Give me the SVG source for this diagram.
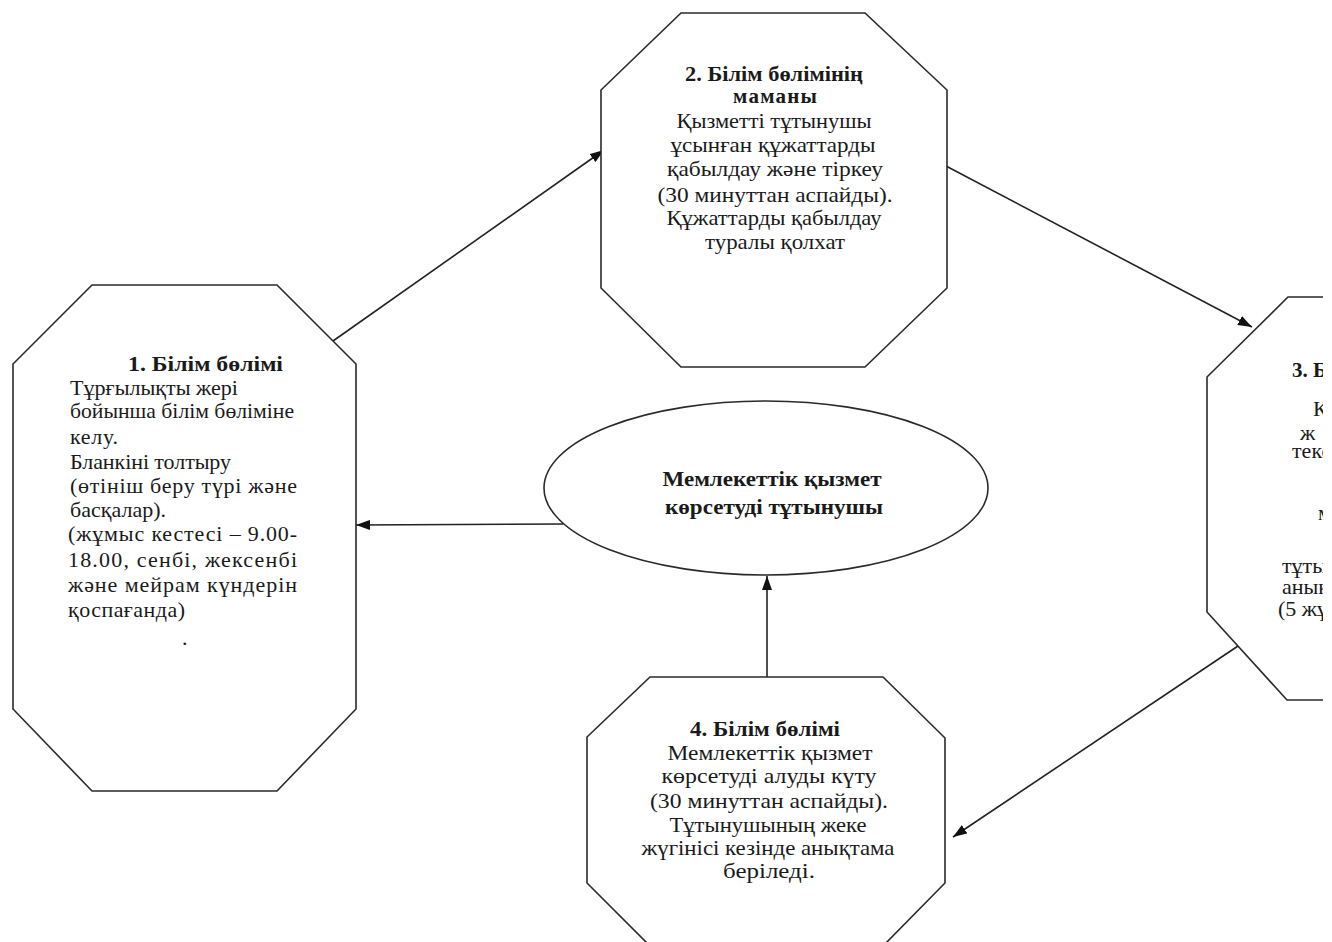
<svg xmlns="http://www.w3.org/2000/svg" width="1332" height="942" viewBox="0 0 1332 942">
  <style>
    .shape { fill: #ffffff; stroke: #2a2a2a; stroke-width: 1.6; }
    .link { fill: none; stroke: #222222; stroke-width: 1.6; marker-end: url(#arrow); }
    text { font-family: "Liberation Serif", "Times New Roman", serif; font-size: 22px; fill: #1a1a1a; }
    .b { font-weight: bold; font-size: 21px; }
    .c { text-anchor: middle; }
    .e { font-size: 22px; font-weight: bold; }
  </style>
  <defs>
    <marker id="arrow" viewBox="0 0 14 10" refX="14" refY="5" markerWidth="14" markerHeight="10" markerUnits="userSpaceOnUse" orient="auto">
      <path d="M0,0 L14,5 L0,10 Z" fill="#111111"/>
    </marker>
    <clipPath id="edge">
      <rect x="0" y="0" width="1323" height="942"/>
    </clipPath>
  </defs>
  <rect width="1332" height="942" fill="#ffffff"/>

  <!-- connectors -->
  <g id="connectors">
    <line class="link" x1="333" y1="341" x2="604" y2="150"/>
    <line class="link" x1="946" y1="166" x2="1252" y2="327"/>
    <line class="link" x1="1238" y1="646" x2="953" y2="837"/>
    <line class="link" x1="767" y1="677" x2="767" y2="576"/>
    <line class="link" x1="563" y1="524" x2="356" y2="525"/>
  </g>

  <!-- step 1 -->
  <g id="node1">
    <polygon class="shape" points="92,285 277,285 356,364 356,709 277,791 92,791 13,709 13,364"/>
    <text class="b" x="128" y="371" textLength="155" lengthAdjust="spacingAndGlyphs">1. Білім бөлімі</text>
    <text x="70" y="395" textLength="168" lengthAdjust="spacingAndGlyphs">Тұрғылықты жері</text>
    <text x="70" y="418" textLength="224" lengthAdjust="spacingAndGlyphs">бойынша білім бөліміне</text>
    <text x="70" y="444" textLength="48" lengthAdjust="spacing">келу.</text>
    <text x="70" y="469" textLength="161" lengthAdjust="spacing">Бланкіні толтыру</text>
    <text x="70" y="493" textLength="227" lengthAdjust="spacing">(өтініш беру түрі және</text>
    <text x="70" y="517" textLength="96" lengthAdjust="spacing">басқалар).</text>
    <text x="68" y="541" textLength="229" lengthAdjust="spacing">(жұмыс кестесі – 9.00-</text>
    <text x="68" y="567" textLength="229" lengthAdjust="spacing">18.00, сенбі, жексенбі</text>
    <text x="68" y="592" textLength="229" lengthAdjust="spacing">және мейрам күндерін</text>
    <text x="68" y="617" textLength="117" lengthAdjust="spacing">қоспағанда)</text>
    <text x="182" y="645">.</text>
  </g>

  <!-- step 2 -->
  <g id="node2">
    <polygon class="shape" points="681,13 865,13 947,90 947,288 865,367 681,367 601,288 601,90"/>
    <text class="b c" x="774" y="81" textLength="178" lengthAdjust="spacingAndGlyphs">2. Білім бөлімінің</text>
    <text class="b c" x="775" y="103" textLength="84" lengthAdjust="spacing">маманы</text>
    <text class="c" x="774" y="128" textLength="195" lengthAdjust="spacingAndGlyphs">Қызметті тұтынушы</text>
    <text class="c" x="773" y="152" textLength="205" lengthAdjust="spacingAndGlyphs">ұсынған құжаттарды</text>
    <text class="c" x="775" y="176" textLength="216" lengthAdjust="spacingAndGlyphs">қабылдау және тіркеу</text>
    <text class="c" x="775" y="202" textLength="235" lengthAdjust="spacingAndGlyphs">(30 минуттан аспайды).</text>
    <text class="c" x="774" y="225" textLength="215" lengthAdjust="spacingAndGlyphs">Құжаттарды қабылдау</text>
    <text class="c" x="775" y="249" textLength="140" lengthAdjust="spacingAndGlyphs">туралы қолхат</text>
  </g>

  <!-- step 3 (runs past the right edge of the sheet) -->
  <g id="node3" clip-path="url(#edge)">
    <polygon class="shape" points="1288,297 1600,297 1600,700 1287,700 1207,612 1207,377"/>
    <text class="b" x="1292" y="377">3. Білім бөлімі</text>
    <text x="1313" y="416">Келген құжаттарды</text>
    <text x="1300" y="440">ж</text>
    <text x="1292" y="458">тексеру</text>
    <text x="1318" y="520">мемлекеттік</text>
    <text x="1282" y="573">тұтынушыға</text>
    <text x="1282" y="594">анықтама</text>
    <text x="1278" y="616">(5 жұмыс күні)</text>
  </g>

  <!-- step 4 -->
  <g id="node4">
    <polygon class="shape" points="650,677 883,677 945,738 945,883 885,944 648,944 587,883 587,737"/>
    <text class="b c" x="765" y="736" textLength="150" lengthAdjust="spacingAndGlyphs">4. Білім бөлімі</text>
    <text class="c" x="770" y="760" textLength="205" lengthAdjust="spacingAndGlyphs">Мемлекеттік қызмет</text>
    <text class="c" x="769" y="783" textLength="215" lengthAdjust="spacingAndGlyphs">көрсетуді алуды күту</text>
    <text class="c" x="769" y="808" textLength="238" lengthAdjust="spacingAndGlyphs">(30 минуттан аспайды).</text>
    <text class="c" x="768" y="832" textLength="197" lengthAdjust="spacingAndGlyphs">Тұтынушының жеке</text>
    <text class="c" x="768" y="855" textLength="253" lengthAdjust="spacingAndGlyphs">жүгінісі кезінде анықтама</text>
    <text class="c" x="769" y="878" textLength="92" lengthAdjust="spacingAndGlyphs">беріледі.</text>
  </g>

  <!-- service consumer -->
  <g id="consumer">
    <ellipse class="shape" cx="766" cy="488" rx="222" ry="87"/>
    <text class="e c" x="772" y="486" textLength="219" lengthAdjust="spacingAndGlyphs">Мемлекеттік қызмет</text>
    <text class="e c" x="774" y="514" textLength="218" lengthAdjust="spacingAndGlyphs">көрсетуді тұтынушы</text>
  </g>
</svg>
